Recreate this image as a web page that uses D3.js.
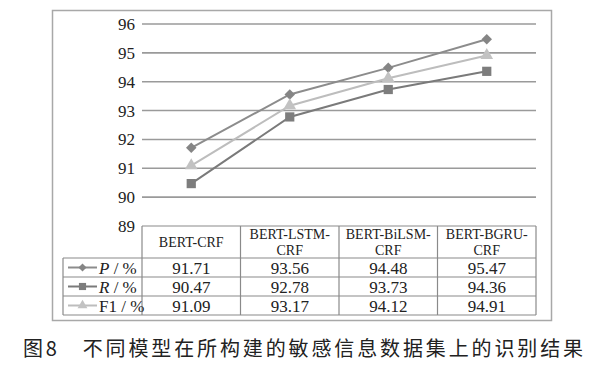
<!DOCTYPE html>
<html>
<head>
<meta charset="utf-8">
<script src="https://cdn.jsdelivr.net/npm/d3@7"></script>
<style>
  body { margin: 0; background: #fff; }
  svg { display: block; }
  .serif { font-family: "Liberation Serif", "Times New Roman", serif; }
</style>
</head>
<body>
<div id="main"></div>
<script>
const categories = ["BERT-CRF", "BERT-LSTM-CRF", "BERT-BiLSM-CRF", "BERT-BGRU-CRF"]
const headerLines = [["BERT-CRF"], ["BERT-LSTM-", "CRF"], ["BERT-BiLSM-", "CRF"], ["BERT-BGRU-", "CRF"]]
const pValues = [91.71, 93.56, 94.48, 95.47]
const rValues = [90.47, 92.78, 93.73, 94.36]
const f1Values = [91.09, 93.17, 94.12, 94.91]
const yTicks = [89, 90, 91, 92, 93, 94, 95, 96]
const caption = "图8\u3000不同模型在所构建的敏感信息数据集上的识别结果"

const series = [
  {name: "P", italic: true, values: pValues, line: "#8c8c8c", fill: "#858585", shape: d3.symbolDiamond2, size: 70},
  {name: "R", italic: true, values: rValues, line: "#7a7a7a", fill: "#7d7d7d", shape: d3.symbolSquare, size: 85},
  {name: "F1", italic: false, values: f1Values, line: "#bdbdbd", fill: "#c2c2c2", shape: d3.symbolTriangle, size: 70}
]

const W = 600, H = 365
const plotL = 142, plotR = 536, plotT = 24, plotB = 226
const rowH = 19, headH = 32, tableL = 63

const svg = d3.select('div#main').append('svg')
  .attr('width', W)
  .attr('height', H)

const x = d3.scaleBand().domain(categories).range([plotL, plotR])
const y = d3.scaleLinear().domain([89, 96]).range([plotB, plotT])

// outer frame
svg.append('rect')
  .attr('x', 52.5).attr('y', 10.5)
  .attr('width', 499).attr('height', 310)
  .attr('fill', 'none').attr('stroke', '#a8a8a8').attr('stroke-width', 1.5)

// grid
svg.append('g').selectAll('line')
  .data(yTicks.filter(d => d > 89))
  .enter().append('line')
    .attr('x1', plotL).attr('x2', plotR)
    .attr('y1', d => y(d)).attr('y2', d => y(d))
    .attr('stroke', '#9a9a9a').attr('stroke-width', 1.6)

// y axis labels
const yAxis = d3.axisLeft(y).tickValues(yTicks).tickFormat(d3.format('d')).tickSize(0).tickPadding(7)
svg.append('g')
  .attr('transform', `translate(${plotL},0)`)
  .call(yAxis)
  .call(g => g.select('.domain').remove())
  .attr('font-family', null)
  .attr('font-size', null)
  .selectAll('text')
    .attr('class', 'serif')
    .style('font-size', '17px')
    .attr('fill', '#222')

// lines and markers
const line = d3.line()
  .x((d, i) => x(categories[i]) + x.bandwidth() / 2)
  .y(d => y(d))

series.forEach(s => {
  svg.append('path')
    .attr('d', line(s.values))
    .attr('fill', 'none')
    .attr('stroke', s.line)
    .attr('stroke-width', 2)
})
series.forEach(s => {
  svg.append('g').selectAll('path')
    .data(s.values)
    .enter().append('path')
      .attr('d', d3.symbol().type(s.shape).size(s.size))
      .attr('transform', (d, i) => `translate(${x(categories[i]) + x.bandwidth() / 2},${y(d)})`)
      .attr('fill', s.fill)
})

// data table
const tbl = svg.append('g').attr('class', 'serif')
const stroke = '#8a8a8a'
const tableB = plotB + headH + rowH * series.length

// horizontal lines
tbl.append('line').attr('x1', plotL).attr('x2', plotR).attr('y1', plotB).attr('y2', plotB)
  .attr('stroke', stroke).attr('stroke-width', 1.2)
d3.range(series.length + 1).forEach(i => {
  const yy = plotB + headH + i * rowH
  tbl.append('line').attr('x1', tableL).attr('x2', plotR).attr('y1', yy).attr('y2', yy)
    .attr('stroke', stroke).attr('stroke-width', 1.2)
})
// vertical lines
tbl.append('line').attr('x1', tableL).attr('x2', tableL).attr('y1', plotB + headH).attr('y2', tableB)
  .attr('stroke', stroke).attr('stroke-width', 1.2)
categories.concat([null]).forEach((c, i) => {
  const xx = c ? x(c) : plotR
  tbl.append('line').attr('x1', xx).attr('x2', xx).attr('y1', plotB).attr('y2', tableB)
    .attr('stroke', stroke).attr('stroke-width', 1.2)
})

// header text
categories.forEach((c, i) => {
  const lines = headerLines[i]
  const cx = x(c) + x.bandwidth() / 2
  const t = tbl.append('text')
    .attr('x', cx)
    .attr('text-anchor', 'middle')
    .style('font-size', '14px')
    .attr('fill', '#222')
  lines.forEach((l, j) => {
    t.append('tspan')
      .attr('x', cx)
      .attr('y', lines.length === 1 ? plotB + 21 : plotB + 13 + j * 16)
      .text(l)
  })
})

// rows
series.forEach((s, r) => {
  const rowY = plotB + headH + r * rowH
  const mid = rowY + rowH / 2
  // legend key
  tbl.append('line').attr('x1', 68).attr('x2', 97).attr('y1', mid).attr('y2', mid)
    .attr('stroke', s.line).attr('stroke-width', 2)
  tbl.append('path')
    .attr('d', d3.symbol().type(s.shape).size(s.size * 0.6))
    .attr('transform', `translate(82.5,${mid})`)
    .attr('fill', s.fill)
  const lab = tbl.append('text')
    .attr('x', 99).attr('y', mid + 6)
    .style('font-size', '17px')
    .attr('fill', '#222')
  lab.append('tspan').style('font-style', s.italic ? 'italic' : 'normal').text(s.name)
  lab.append('tspan').text(' / %')
  // values
  s.values.forEach((v, i) => {
    tbl.append('text')
      .attr('x', x(categories[i]) + x.bandwidth() / 2)
      .attr('y', mid + 6)
      .attr('text-anchor', 'middle')
      .style('font-size', '17px')
      .attr('fill', '#222')
      .text(v.toFixed(2))
  })
})

// caption
svg.append('text')
  .attr('x', 23).attr('y', 356)
  .style('font-family', '"Noto Sans CJK SC", sans-serif')
  .style('font-size', '20px')
  .attr('fill', '#222')
  .attr('textLength', 560)
  .text(caption)
</script>
</body>
</html>
